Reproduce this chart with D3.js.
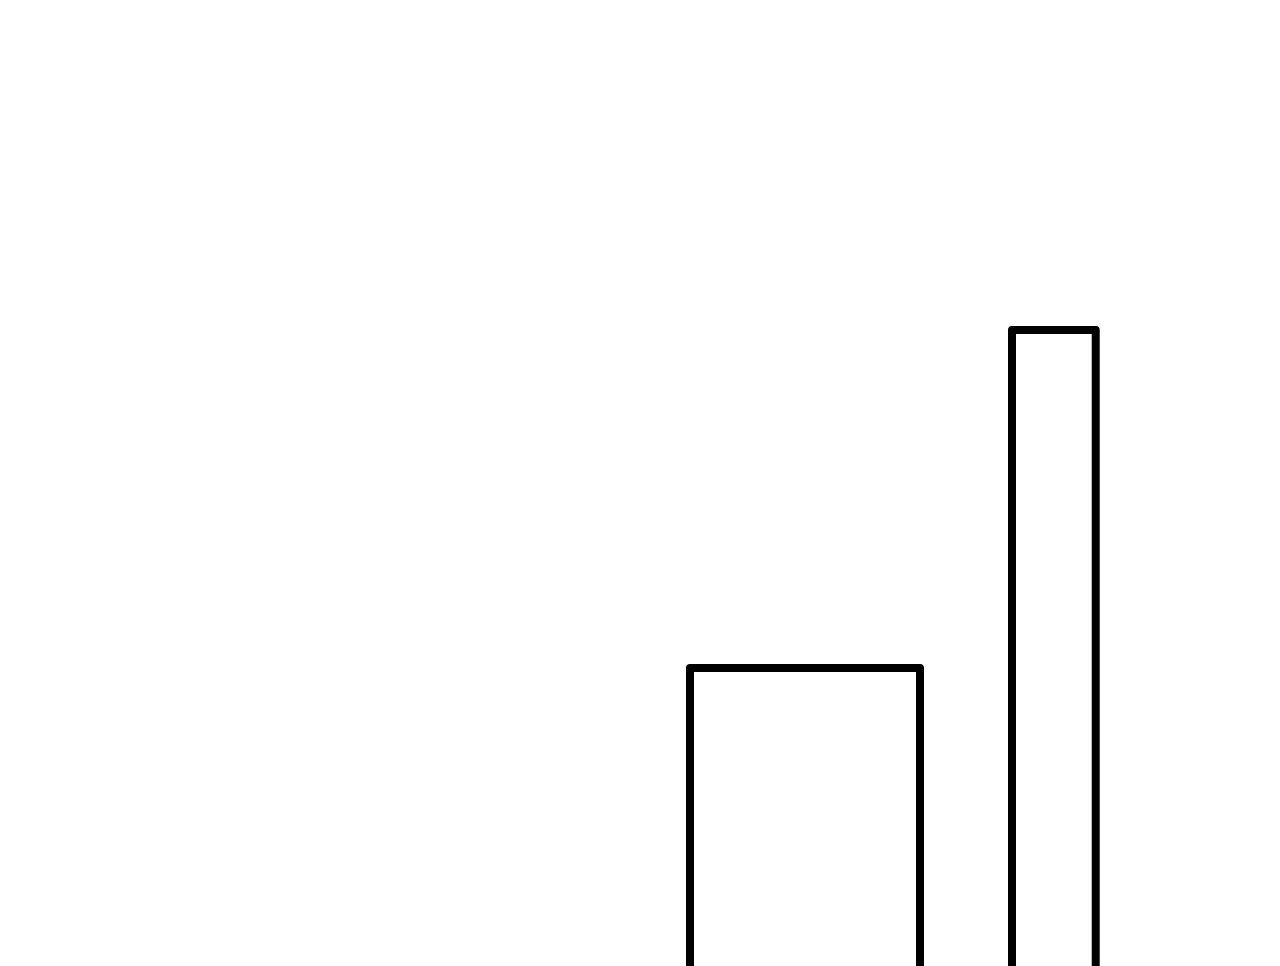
<!DOCTYPE html>
<html>
<head>
<meta charset="utf-8">
<script src="https://cdn.jsdelivr.net/npm/d3@7"></script>
<style>
  body { margin: 0; background: #fff; overflow: hidden; }
  svg { display: block; }
</style>
</head>
<body>
<div class="canvas"></div>
<script>
// bar edges and heights
const binStart = [15, 22];
const binEnd = [20, 23.82];
const heights = [1, 2];

const dims = { width: 1280, height: 966 };

const svg = d3.select('.canvas').append('svg')
  .attr('width', dims.width)
  .attr('height', dims.height);

// 1 unit = 46px across, baseline sits just below the window
const x = d3.scaleLinear()
  .domain([0, dims.width / 46])
  .range([0, dims.width]);

const y = d3.scaleLinear()
  .domain([0, 1006 / 338])
  .range([1006, 0]);

const bars = binStart.map((s, i) => ({ x0: s, x1: binEnd[i], h: heights[i] }));

svg.append('g').selectAll('rect')
  .data(bars)
  .enter()
  .append('rect')
  .attr('x', d => x(d.x0))
  .attr('y', d => y(d.h))
  .attr('width', d => x(d.x1) - x(d.x0))
  .attr('height', d => y(0) - y(d.h))
  .attr('fill', 'none')
  .attr('stroke', '#000')
  .attr('stroke-width', 8)
  .attr('stroke-linejoin', 'round');
</script>
</body>
</html>
